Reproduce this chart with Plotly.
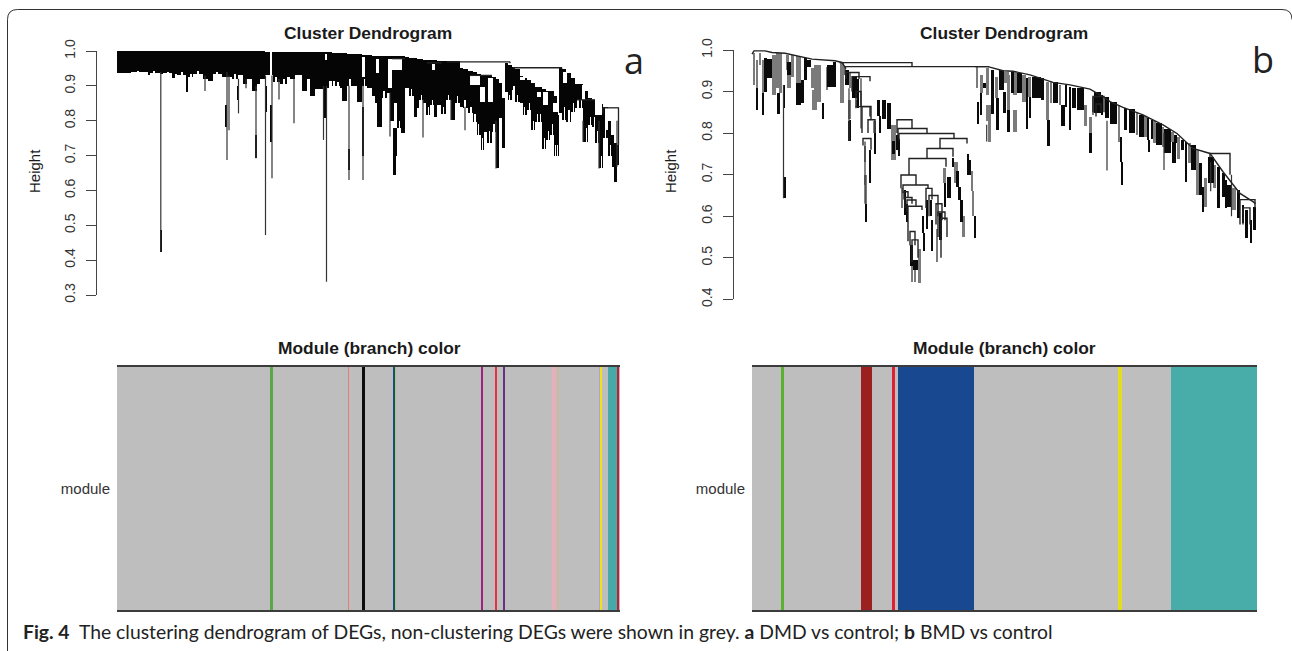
import plotly.graph_objects as go

W, H = 1292, 651
FONT = "Liberation Sans"
AXIS = "#444444"

# ---------- Panel a: dendrogram, leaf rank 0-503, (start, end, top height, low height)
a_band_left = [
    (0,14,.999,.938),(14,31,.999,.940),(31,33,.999,.932),(33,43,.999,.937),(43,46,.999,.935),(46,55,.999,.936),
    (55,58,.999,.922),(58,60,.999,.935),(60,69,.999,.93),(69,71,.999,.915),(71,76,.999,.925),(76,86,.999,.935),
    (86,91,.999,.92),(91,96,.999,.915),(96,105,.999,.935),(105,108,.999,.925),(108,115,.999,.925),(115,121,.999,.92),
    (121,126,.999,.93),(126,130,.999,.905),(130,135,.999,.92),(135,140,.999,.885),(140,143,.999,.905),(143,148,.999,.92),
    (148,156,.998,.93),(156,163,.998,.91),(163,170,.998,.905),(170,173,.998,.925),
]
a_band_mid = [
    (173,178,.998,.92),(178,185,.998,.93),(185,190,.998,.885),(190,193,.998,.92),(193,198,.997,.87),(198,203,.997,.89),
    (203,207,.997,.89),(207,212,.997,.895),(212,215,.996,.915),(215,223,.995,.90),(223,225,.994,.895),(225,230,.993,.857),
    (230,236,.992,.90),(236,240,.99,.90),(240,245,.99,.855),(245,250,.989,.90),(250,255,.988,.895),(255,258,.987,.87),
    (258,260,.987,.85),(260,265,.987,.783),(265,270,.987,.865),(270,273,.986,.88),(273,277,.986,.80),(277,280,.986,.70),
    (280,284,.985,.78),(284,288,.985,.764),(288,292,.983,.895),(292,297,.981,.87),(297,300,.979,.812),(300,302,.978,.836),
    (302,306,.977,.859),(306,309,.975,.85),(309,313,.974,.816),(313,317,.974,.845),(317,320,.973,.812),(320,324,.972,.845),
    (324,329,.972,.82),(329,334,.971,.859),(334,338,.97,.802),(338,343,.97,.85),
]
a_band_right = [
    (343,346,.952,.84),(346,351,.948,.836),(351,356,.944,.821),(356,360,.939,.797),(360,364,.935,.759),(364,367,.931,.716),
    (367,370,.93,.769),(370,375,.928,.735),(375,379,.926,.769),(379,382,.92,.663),(382,385,.907,.807),(385,388,.864,.723),
    (388,391,.965,.883),(391,395,.96,.859),(395,398,.955,.888),(398,403,.948,.855),(403,406,.929,.85),(406,410,.922,.816),
    (410,414,.917,.831),(414,418,.907,.773),(418,425,.898,.797),(425,429,.892,.719),(429,433,.885,.745),(433,437,.885,.759),
    (437,440,.872,.699),(440,441,.85,.73),(441,442,.816,.699),
    (442,445,.95,.821),(445,449,.948,.802),(449,454,.936,.797),(454,458,.922,.826),(458,466,.904,.836),(466,471,.885,.74),
    (471,475,.864,.788),(475,478,.859,.783),(478,482,.85,.735),(482,486,.848,.663),(486,491,.84,.75),(491,495,.826,.699),
    (495,497,.773,.668),(497,500,.735,.623),(500,502,.73,.673),
]
a_thick = [
    (43,45,.487,.424),(108,110,.845,.783),(120,122,.90,.859),(138,140,.759,.692),(148,150,.90,.826),(152.5,155,.845,.74),
    (69,71,.93,.883),(207,210,.893,.807),(230.5,232.5,.72,.659),(244.5,246.5,.84,.70),(260,262.5,.86,.783),(276,278.5,.778,.645),
]
a_spikes = [
    (43.8,.94,.424),(110,.94,.687),(112,.93,.773),(121.5,.92,.821),(129,.92,.893),(139,.90,.692),(148.5,.93,.472),
    (155,.93,.635),(162,.92,.861),(88,.93,.885),(177,.92,.793),(206.5,.90,.745),(209.5,.90,.338),(232,.90,.63),
    (246,.90,.63),(273,.88,.755),(306,.86,.752),(334,.86,.802),(348,.84,.773),(379,.80,.663),(500,.80,.668),
    (482,.80,.663),(466,.80,.74),
]
a_white = [
    (153,155,.996,.926),(208,209.5,.99,.974),(245,247.5,.984,.926),(259,262,.976,.936),(271,285,.977,.946),
    (271,275,.945,.893),(277,280,.85,.778),(315,318,.964,.946),(353,363,.929,.902),(363,368,.898,.855),(371,376,.922,.855),
    (403,408,.926,.917),(420,424,.883,.868),(426,431,.883,.845),(436,441,.85,.826),(446,450,.94,.907),(465,468,.902,.859),
    (478,485,.854,.816),(488,491,.836,.773),(491,494,.832,.80),(494,497,.832,.76),(497,500,.832,.735),
]
a_notches = [
    (20,22,.944,.93),(36,38,.942,.93),(50,52,.941,.93),(64,66,.94,.92),(73,75,.935,.92),(80,82,.943,.93),(99,101,.94,.93),
    (117,119,.935,.915),(158,160,.925,.90),(166,168,.92,.90),
    (216,218,.915,.895),(220,222,.91,.895),(232,234,.92,.89),(247,248,.92,.89),(266,268,.885,.86),(282,283,.80,.77),
    (294,295,.89,.865),(304,305,.875,.85),(311,312,.84,.81),(315,316,.86,.84),(326,327,.84,.815),(331,332,.875,.855),(340,341,.87,.845),
    (347,349,.86,.83),(353,355,.84,.82),(357,359,.82,.79),(361,362,.79,.755),(365,366,.75,.71),(372,373,.77,.73),(376,378,.79,.76),
    (392,393,.875,.855),(396,398,.90,.885),(400,401,.875,.85),(407,408,.84,.81),(412,413,.85,.825),(416,417,.80,.77),(420,421,.82,.79),
    (423,424,.82,.79),(427,428,.75,.715),(431,432,.77,.74),(435,436,.79,.755),(438,439,.73,.695),
    (447,448,.84,.80),(451,453,.83,.79),(456,457,.85,.82),(460,462,.86,.83),(464,465,.86,.83),(469,470,.78,.735),(473,474,.81,.78),
    (477,478,.81,.78),(480,481,.77,.73),(484,485,.70,.66),(488,489,.78,.745),(493,494,.73,.695),
]
a_links = [(330,393,.969),(396,445,.952),(486,502,.837),(460,478,.86),(353,375,.93),(275,288,.978),(310,325,.966)]
a_link_drops = [(393,.969,.965),(445,.952,.95),(501.5,.837,.73),(486,.837,.82)]

# ---------- Panel b: dendrogram, leaf rank 0-505
b_grey_left = [
    (.3,2.3,.992,.916),(4,5.3,.976,.908),(6.3,8.3,.992,.964),(9.7,11.3,.976,.896),(19.7,23,.988,.892),(23,26.3,.992,.908),
    (26.3,29.7,.992,.896),(33,36.3,.988,.952),(34.7,38,.95,.908),(38,41.3,.988,.936),(43,48,.986,.92),(58,61.3,.956,.908),
    (61.3,64.7,.964,.904),(59.7,64.7,.904,.856),(64.7,68,.964,.876),(73,75.7,.96,.904),(87.3,91.3,.968,.872),(96.3,98.3,.944,.908),
]
b_black_left = [
    (4,5.3,.908,.856),(9.7,11.3,.896,.844),(12.3,14.3,.98,.90),(14.7,19.7,.978,.932),(24.7,27,.896,.845),(30.3,32.3,.916,.86),
    (34.7,38,.972,.94),(43,48,.92,.868),(48,51.3,.928,.872),(51.3,54.7,.98,.928),(54.7,58,.976,.96),(69,71,.872,.834),
    (74.7,80.3,.964,.912),(80.3,83,.972,.912),(92,96.3,.952,.916),(99.7,104.7,.936,.884),(104.7,106.5,.93,.86),
    (31.5,33,.695,.643),(96.7,98.3,.831,.781),
]
b_grey_mid = [
    (96.3,98,.88,.835),(103,105,.88,.864),(121.3,123,.83,.80),(111,113.3,.77,.73),(111.3,114,.70,.675),(112,114,.675,.63),
    (138,143,.82,.735),(148.7,150,.667,.62),(165,168,.49,.442),(165.5,168.3,.52,.44),(159,160.5,.50,.442),(161,163,.49,.442),
    (183,185.5,.57,.49),(191.3,193,.715,.68),(201.3,205.3,.73,.68),(209.7,212.3,.60,.55),(218,220.7,.71,.66),(219,221.3,.66,.60),
]
b_black_mid = [
    (96.3,98,.83,.781),(121.3,123.3,.80,.75),(116.3,118.7,.76,.73),(116.5,118.3,.73,.68),(112.5,114,.63,.585),(124.7,127.3,.88,.84),
    (127,128.7,.84,.80),(129.7,133,.88,.835),(134.7,138,.872,.81),(139,142,.78,.75),(143,146.3,.796,.76),(146.3,147.3,.785,.745),(151.3,153.3,.664,.602),
    (153.3,155.7,.63,.587),(157.3,160,.53,.48),(160.7,163.3,.495,.47),(163.3,165.5,.495,.47),(169.7,171.3,.60,.56),(171.3,172.7,.56,.517),
    (174,175.7,.64,.57),(177,179.3,.64,.60),(178.7,180.3,.59,.517),(186.3,189.7,.607,.543),(191.3,193.3,.68,.623),(194.7,198,.695,.643),
    (199.7,201.3,.739,.719),(203,206.3,.708,.671),(205.3,208.7,.671,.639),(207.3,210.7,.639,.587),(214,216.3,.75,.70),(216.3,218.7,.735,.70),
    (222,223.3,.60,.548),
]
b_grey_right = [
    (223,225.7,.958,.908),(227.3,230.7,.94,.896),(233,236.3,.956,.892),(233.7,238,.868,.828),(235.3,238.7,.828,.778),(242,245.3,.936,.884),
    (251.3,256.3,.948,.92),(254.7,257.3,.94,.856),(260.7,264.7,.948,.892),(260.7,264.7,.856,.803),(269.7,273,.94,.876),(275.3,278.7,.936,.888),
    (293,296.3,.924,.832),(298,299.7,.924,.872),(306.3,308.7,.916,.868),(331.3,334.7,.868,.818),(336.3,339.7,.838,.80),(339.7,341.3,.888,.844),
    (365.7,367.7,.868,.778),(384,385.3,.848,.795),(391.3,394,.84,.791),(401.3,403,.828,.775),(409.7,411.3,.815,.767),(418,421.3,.803,.779),
    (424.7,427,.791,.737),(435.3,438,.775,.727),(443,446.3,.759,.651),(451.3,454.7,.691,.623),(461.3,463,.723,.667),(479.7,483,.667,.615),
]
b_black_right = [
    (224.7,226.7,.876,.821),(227.3,229.3,.896,.844),(230.7,233.3,.92,.908),(238.7,241.3,.952,.845),(243.3,246,.884,.807),(246.3,251.3,.952,.904),
    (250.7,253,.90,.848),(254.7,257.3,.856,.803),(258,261.3,.946,.896),(264.7,269.7,.944,.896),(273,275.3,.932,.81),(276.3,278.7,.888,.836),
    (279.7,288,.936,.884),(288.7,291.3,.932,.88),(294,297,.832,.77),(300.7,305.3,.922,.872),(308.7,312,.868,.816),(312,314.7,.916,.864),
    (316.3,318.7,.912,.807),(319.7,323,.908,.86),(324.7,331.3,.908,.856),(336.3,339.7,.80,.751),(341.3,348,.90,.848),(349,350.7,.892,.844),
    (352,356.3,.888,.836),(357.3,364.7,.875,.821),(368,369.7,.791,.731),(369,370.7,.731,.675),(371.3,374.7,.86,.808),(376.3,382,.857,.80),
    (386.3,391.3,.844,.791),(394,396.3,.836,.783),(396,397,.783,.755),(398,400.7,.832,.787),(403,409.7,.824,.771),(411.3,418,.811,.751),
    (419.7,423,.779,.727),(421.3,424.7,.795,.775),(428,431.3,.783,.759),(432,434,.779,.683),(438,443,.771,.711),(446.3,449.7,.727,.651),
    (449.7,451.3,.671,.611),(455.3,461.3,.743,.679),(464.7,467,.719,.619),(469,472,.703,.647),(473,474.7,.687,.619),(474.7,479.7,.675,.623),
    (484,487,.663,.595),(489,491.3,.627,.583),(492,495.3,.615,.547),(497,499,.591,.536),(500.7,503.7,.623,.567),
]
b_spikes = [
    (31.5,.916,.643),(97,.908,.781),(109,.932,.811),(113,.78,.63),(234.7,.82,.78),(355,.83,.71),(412,.80,.711),
    (458.7,.73,.66),(479.5,.70,.60),
]
b_top_left = [(0,.99),(2,.998),(13,.998),(20,.994),(33,.992),(45,.986),(60,.978),(83,.974),(90,.97),(94,.955)]
b_top_right = [
    (223,.96),(236,.96),(251,.95),(261,.949),(278,.94),(301,.922),(318,.916),(338,.906),(351,.888),(358,.876),(371,.862),
    (391,.844),(411,.82),(425,.799),(441,.763),(458,.751),(471,.707),(488,.655),(501,.635),(503.5,.63),
]
# merges: (left leaf, right leaf, join height, left child height, right child height)
b_merges = [
    (88,160,.9695,.97,.96),(93,237,.96,.94,.96),(94,107,.946,.93,.93),(100,118,.936,.90,.925),(104,109,.90,.864,.864),
    (104,118,.8636,.86,.84),(110,119,.864,.80,.832),(116,123,.832,.80,.80),(111,119,.787,.77,.76),(145,160,.832,.80,.811),
    (146,175,.811,.79,.799),(147,202,.799,.78,.787),(188,215,.787,.763,.775),(175,201,.763,.739,.743),(157,194,.739,.699,.719),
    (149,164,.699,.667,.675),(151,176,.675,.655,.667),(174,180,.667,.62,.64),(152,156,.659,.64,.645),(153,160,.645,.62,.63),
    (155,164,.639,.61,.625),(156,170,.624,.54,.615),(158,163,.563,.53,.53),(160,166,.543,.49,.50),(177,186,.65,.60,.60),
    (184,190,.63,.58,.59),(186,193,.61,.55,.59),(189,195,.595,.50,.55),(458,478,.751,.74,.70),(488,503,.64,.58,.62),
    (491,498,.62,.58,.58),(341,352,.888,.85,.85),(344,349,.87,.84,.85),
]

# ---------- Module colour bands: edges along the leaf order, one colour for each gap
a_module_edges = [0,153.4,156.3,230.5,231.8,245.4,247.5,276,278.2,279,364.4,365.7,377.7,379.8,386.4,387.6,435.3,438.6,
                  440.3,442.4,481.8,482.6,484.7,490.5,499.6,502,503]
a_module_colors = ["#bebebe","#5aa845","#bebebe","#e08070","#bebebe","#0c0c0c","#bebebe","#174a96","#a8d040","#bebebe",
                   "#a02080","#bebebe","#e83040","#bebebe","#6a3080","#bebebe","#e5b0ba","#bebebe","#cdb8a0","#bebebe",
                   "#a8a8c8","#f0e020","#bebebe","#48aaa8","#c02030","#bebebe"]
b_module_edges = [0,29,32,108.5,120.4,139.6,142.5,146.2,222.4,366,369.8,418.5,505]
b_module_colors = ["#bebebe","#5cb030","#bebebe","#9c2020","#bebebe","#e02030","#bebebe","#18488f","#bebebe","#e4dc20",
                   "#bebebe","#48aca8"]

TITLE_TOP = "Cluster Dendrogram"
TITLE_BOTTOM = "Module (branch) color"
CAPTION = ("<b>Fig. 4</b>  The clustering dendrogram of DEGs, non-clustering DEGs were shown in grey. "
           "<b>a</b> DMD vs control; <b>b</b> BMD vs control")


def px(x):
    return x / W


def py(y):
    return 1 - y / H


def bars(cols, color, xa, ya):
    return go.Bar(x=[c[0] for c in cols], width=[c[1] - c[0] for c in cols], base=[c[3] for c in cols],
                  y=[c[2] - c[3] for c in cols], offset=0, marker=dict(color=color, line=dict(width=0)),
                  xaxis=xa, yaxis=ya, hoverinfo="skip", showlegend=False)


def segs(pairs, color, width, xa, ya):
    xs, ys = [], []
    for path in pairs:
        for p in path:
            xs.append(p[0]); ys.append(p[1])
        xs.append(None); ys.append(None)
    return go.Scatter(x=xs, y=ys, mode="lines", line=dict(color=color, width=width), xaxis=xa, yaxis=ya,
                      hoverinfo="skip", showlegend=False)


def module(edges, colors, xa, ya):
    n = len(colors)
    scale = []
    for i, c in enumerate(colors):
        scale += [[i / n, c], [(i + 1) / n, c]]
    return go.Heatmap(x=edges, y=["module"], z=[[i + .5 for i in range(n)]], zmin=0, zmax=n, colorscale=scale,
                      showscale=False, hoverinfo="skip", xaxis=xa, yaxis=ya)


fig = go.Figure()
# panel a
fig.add_trace(bars(a_band_left + a_band_mid + a_band_right, "#050505", "x", "y"))
fig.add_trace(bars(a_notches + a_white, "#ffffff", "x", "y"))
fig.add_trace(bars(a_thick, "#050505", "x", "y"))
fig.add_trace(segs([[(s[0], s[1]), (s[0], s[2])] for s in a_spikes], "#333333", 1.2, "x", "y"))
fig.add_trace(segs([[(l[0], l[2]), (l[1], l[2])] for l in a_links] + [[(d[0], d[1]), (d[0], d[2])] for d in a_link_drops],
                   "#222222", 1.3, "x", "y"))
fig.add_trace(module(a_module_edges, a_module_colors, "x3", "y3"))
# panel b
fig.add_trace(bars(b_grey_left + b_grey_mid + b_grey_right, "#7b7b7b", "x2", "y2"))
fig.add_trace(bars(b_black_left + b_black_mid + b_black_right, "#0a0a0a", "x2", "y2"))
fig.add_trace(segs([[(s[0], s[1]), (s[0], s[2])] for s in b_spikes], "#333333", 1.2, "x2", "y2"))
fig.add_trace(segs([b_top_left, b_top_right], "#222222", 1.4, "x2", "y2"))
fig.add_trace(segs([[(m[0], m[3]), (m[0], m[2]), (m[1], m[2]), (m[1], m[4])] for m in b_merges], "#222222", 1.4, "x2", "y2"))
fig.add_trace(module(b_module_edges, b_module_colors, "x4", "y4"))


def dendro_y(top, bottom, rng, dtick, anchor):
    return dict(domain=[py(bottom), py(top)], range=rng, dtick=dtick, tickformat=".1f", ticks="outside", ticklen=10,
                tickwidth=1, tickcolor=AXIS, showline=True, linecolor=AXIS, linewidth=1, showgrid=False, zeroline=False,
                tickangle=-90, tickfont=dict(family=FONT, size=14, color="#333333"), ticklabelstandoff=5, anchor=anchor)


def hidden_x(left, right, rng, anchor):
    return dict(domain=[px(left), px(right)], range=rng, visible=False, anchor=anchor, showgrid=False, zeroline=False)


def band_x(left, right, rng, anchor):
    return dict(domain=[px(left), px(right)], range=rng, anchor=anchor, showline=True, mirror=True, linecolor="#3c3c3c",
                linewidth=1.5, ticks="", showticklabels=False, showgrid=False, zeroline=False)


def band_y(anchor):
    return dict(domain=[py(610), py(367)], anchor=anchor, showgrid=False, zeroline=False, ticks="", ticklabelstandoff=6,
                tickfont=dict(family=FONT, size=15, color="#333333"), showline=False)


def label(text, x, y, size, bold=False, angle=0, family=FONT, color="#1a1a1a"):
    return dict(text=f"<b>{text}</b>" if bold else text, x=px(x), y=py(y), xref="paper", yref="paper", showarrow=False,
                font=dict(family=family, size=size, color=color), textangle=angle, xanchor="center", yanchor="middle")


r = 10
card = (f"M {px(7.5)} {py(660)} L {px(7.5)} {py(9.5 + r)} Q {px(7.5)} {py(9.5)} {px(7.5 + r)} {py(9.5)} "
        f"L {px(1282)} {py(9.5)} Q {px(1292)} {py(9.5)} {px(1292)} {py(9.5 + r)}")

fig.update_layout(
    width=W, height=H, margin=dict(l=0, r=0, t=0, b=0, autoexpand=False), paper_bgcolor="white", plot_bgcolor="white",
    barmode="overlay", bargap=0, showlegend=False,
    xaxis=hidden_x(97, 620, [-20, 503], "y"), yaxis=dendro_y(51, 295, [.3, 1.0], .1, "x"),
    xaxis2=hidden_x(733.5, 1257, [-18.5, 505], "y2"), yaxis2=dendro_y(50, 299.3, [.4, 1.0], .1, "x2"),
    xaxis3=band_x(117, 620, [0, 503], "y3"), yaxis3=band_y("x3"),
    xaxis4=band_x(752, 1257, [0, 505], "y4"), yaxis4=band_y("x4"),
    shapes=[dict(type="path", path=card, xref="paper", yref="paper", line=dict(color="#333333", width=1))],
    annotations=[
        label(TITLE_TOP, 368, 33, 17.4, True), label(TITLE_TOP, 1004, 33, 17.4, True),
        label(TITLE_BOTTOM, 369, 348, 17.4, True), label(TITLE_BOTTOM, 1004, 348, 17.4, True),
        label("Height", 35, 171, 15, angle=-90), label("Height", 671, 171, 15, angle=-90),
        label("a", 634, 61, 36, family="Open Sans", color="#222222"), label("b", 1263, 59, 36, family="Open Sans", color="#222222"),
        dict(text=CAPTION, x=px(21), y=py(631), xref="paper", yref="paper", showarrow=False, xanchor="left", yanchor="middle",
             font=dict(family="Lato", size=19.35, color="#222222")),
    ],
)
fig.write_html("out.html", config={"displayModeBar": False}, post_script="document.body.style.margin='0';")
